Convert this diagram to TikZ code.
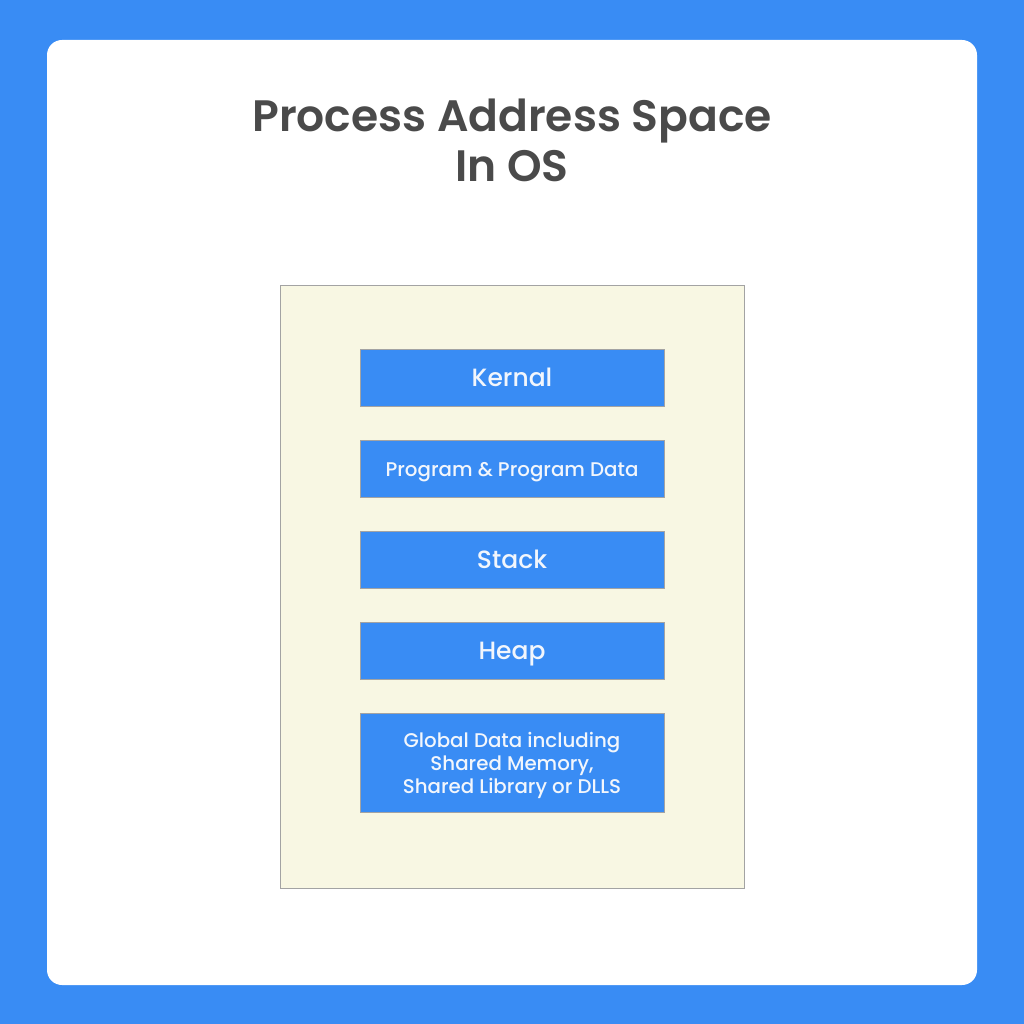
\documentclass[tikz,border=0pt]{standalone}
\usepackage{fontspec}
\setmainfont{Poppins}[BoldFont=Poppins SemiBold]
\newfontfamily\medfont{Poppins Medium}
\usepackage{xcolor}
\usepackage{tikz}
\definecolor{bg}{HTML}{398CF4}
\definecolor{card}{HTML}{FFFFFF}
\definecolor{cream}{HTML}{F8F7E3}
\definecolor{edge}{HTML}{A3A3A3}
\definecolor{title}{HTML}{4A4A4A}
\definecolor{segtext}{HTML}{F2F6FC}
\tikzset{
  seg/.style={draw=edge, line width=0.9pt, fill=bg, minimum width=304pt,
    minimum height=57pt, inner sep=0pt, text=segtext, align=center,
    text depth=0pt},
  tall/.style={minimum height=99pt},
  big/.style={font=\medfont\fontsize{25}{29}\selectfont, text height=17.5pt},
  small/.style={font=\medfont\fontsize{19.8}{23}\selectfont, text height=16.8pt},
  segtxt/.style={text=segtext, align=center, inner sep=0pt}
}

\begin{document}
\begin{tikzpicture}[x=1pt, y=-1pt]
  \fill[bg] (0,0) rectangle (1024,1024);
  \useasboundingbox (0,0) rectangle (1024,1024);
  \fill[card, rounded corners=15pt] (47,40) rectangle (977,985);

  \node[text=title, align=center, font=\fontsize{44}{50}\selectfont\bfseries] (head) at (512,140)
    {Process Address Space\\In OS};

  \draw[edge, fill=cream, line width=0.9pt] (280,285) rectangle (744,888);

  \node[seg, big] (kernal) at (512,377.5) {Kernal};
  \node[seg, small] (prog) at (512,468.5) {Program \& Program Data};
  \node[seg, big] (stack) at (512,559.5) {Stack};
  \node[seg, big] (heap) at (512,650.5) {Heap};
  \node[seg, tall, label={[segtxt, small, text height=, yshift=-3pt]center:{Global Data including\\Shared Memory,\\ Shared Library or DLLS}}]
    (glob) at (512,762.5) {};
\end{tikzpicture}
\end{document}
